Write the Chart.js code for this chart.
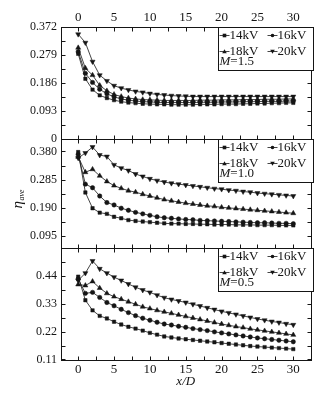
<!DOCTYPE html>
<html><head><meta charset="utf-8">
<script src="https://cdn.jsdelivr.net/npm/chart.js@4"></script>
<style>html,body{margin:0;padding:0;background:#fff;}canvas{display:block;}</style>
</head><body>
<canvas id="c" width="322" height="393"></canvas>
<script>
const xValues = [0,1,2,3,4,5,6,7,8,9,10,11,12,13,14,15,16,17,18,19,20,21,22,23,24,25,26,27,28,29,30];
const seriesNames = ['14kV','16kV','18kV','20kV'];
const panelMach = ['1.5','1.0','0.5'];

// M = 1.5
const m15_14 = [0.283,0.200,0.164,0.145,0.136,0.129,0.124,0.121,0.119,0.117,0.116,0.115,0.115,0.114,0.114,0.114,0.114,0.115,0.115,0.115,0.116,0.116,0.116,0.117,0.117,0.118,0.118,0.119,0.119,0.120,0.120];
const m15_16 = [0.290,0.218,0.188,0.165,0.150,0.140,0.133,0.129,0.126,0.124,0.123,0.122,0.121,0.121,0.121,0.121,0.121,0.122,0.122,0.122,0.123,0.123,0.123,0.124,0.124,0.124,0.125,0.125,0.125,0.126,0.126];
const m15_18 = [0.303,0.235,0.212,0.178,0.160,0.148,0.141,0.136,0.133,0.131,0.130,0.129,0.128,0.128,0.128,0.128,0.128,0.129,0.129,0.129,0.130,0.130,0.130,0.131,0.131,0.131,0.132,0.132,0.132,0.133,0.133];
const m15_20 = [0.348,0.320,0.257,0.212,0.193,0.177,0.169,0.163,0.158,0.155,0.151,0.148,0.146,0.144,0.143,0.142,0.141,0.141,0.141,0.141,0.141,0.141,0.141,0.141,0.141,0.141,0.141,0.141,0.141,0.141,0.141];
// M = 1.0
const m10_14 = [0.378,0.242,0.189,0.174,0.170,0.160,0.155,0.149,0.146,0.144,0.142,0.140,0.138,0.137,0.137,0.136,0.136,0.135,0.135,0.134,0.134,0.134,0.133,0.133,0.133,0.132,0.132,0.132,0.131,0.131,0.131];
const m10_16 = [0.370,0.270,0.258,0.230,0.208,0.200,0.189,0.182,0.175,0.170,0.165,0.160,0.157,0.155,0.153,0.151,0.150,0.148,0.147,0.146,0.145,0.144,0.143,0.142,0.141,0.140,0.140,0.139,0.138,0.138,0.137];
const m10_18 = [0.362,0.310,0.320,0.298,0.279,0.265,0.256,0.248,0.243,0.236,0.230,0.224,0.218,0.214,0.210,0.206,0.203,0.200,0.197,0.195,0.192,0.190,0.188,0.186,0.184,0.182,0.180,0.178,0.176,0.174,0.172];
const m10_20 = [0.358,0.375,0.395,0.368,0.363,0.335,0.324,0.316,0.304,0.296,0.288,0.282,0.277,0.273,0.270,0.267,0.264,0.261,0.258,0.255,0.253,0.250,0.248,0.245,0.243,0.240,0.238,0.236,0.234,0.232,0.230];
// M = 0.5
const m05_14 = [0.437,0.344,0.304,0.282,0.272,0.259,0.248,0.239,0.232,0.224,0.215,0.208,0.201,0.197,0.193,0.190,0.187,0.184,0.181,0.178,0.175,0.172,0.169,0.166,0.163,0.161,0.159,0.157,0.155,0.153,0.151];
const m05_16 = [0.428,0.371,0.375,0.355,0.335,0.322,0.308,0.295,0.283,0.273,0.265,0.257,0.250,0.246,0.241,0.237,0.232,0.228,0.224,0.219,0.215,0.211,0.207,0.203,0.199,0.195,0.192,0.189,0.186,0.183,0.180];
const m05_18 = [0.406,0.402,0.418,0.392,0.371,0.358,0.348,0.338,0.328,0.318,0.311,0.304,0.298,0.292,0.286,0.280,0.274,0.268,0.262,0.256,0.250,0.245,0.240,0.236,0.231,0.227,0.223,0.219,0.215,0.211,0.207];
const m05_20 = [0.422,0.451,0.499,0.468,0.451,0.435,0.422,0.408,0.395,0.384,0.375,0.364,0.354,0.347,0.341,0.335,0.328,0.321,0.314,0.307,0.300,0.294,0.288,0.282,0.276,0.270,0.265,0.260,0.256,0.251,0.247];

const xTicks = [0,5,10,15,20,25,30];
const xMinorTicks = [2.5,7.5,12.5,17.5,22.5,27.5];
const yTicksTop = [0,0.093,0.186,0.279,0.372];
const yLabelsTop = ['0','0.093','0.186','0.279','0.372'];
const yMinorTop = [0.0465,0.1395,0.2325,0.3255];
const yTicksMid = [0.095,0.190,0.285,0.380];
const yLabelsMid = ['0.095','0.190','0.285','0.380'];
const yMinorMid = [0.1425,0.2375,0.3325];
const yTicksBot = [0.11,0.22,0.33,0.44];
const yLabelsBot = ['0.11','0.22','0.33','0.44'];
const yMinorBot = [0.165,0.275,0.385,0.495];

const pointStyles = ['rect','circle','triangle','triangle'];
const pointRots = [0,0,0,180];
const pointRadii = [2.4,2.2,2.9,2.9];
const INK = '#151515';
const SERIF = '"Liberation Serif", "DejaVu Serif", serif';

function makeSets(arrs, axis){
  return arrs.map((a,i)=>({
    label: seriesNames[i]+' '+axis,
    data: xValues.map((x,j)=>({x:x, y:a[j]})),
    xAxisID:'x', yAxisID:axis,
    borderColor:INK, backgroundColor:INK, borderWidth:0.8,
    pointStyle:pointStyles[i], rotation:pointRots[i], pointRadius:pointRadii[i],
    pointBorderWidth:0.5, pointBorderColor:INK, pointBackgroundColor:INK,
    tension:0, fill:false
  }));
}

function yScale(min,max,ticks,labels,weight){
  return {type:'linear', position:'left', stack:'panels', stackWeight:weight, min:min, max:max,
    grid:{display:false, drawTicks:false}, border:{display:false},
    afterBuildTicks: s => { s.ticks = ticks.map(v=>({value:v})); },
    afterFit: s => { s.width = 61; },
    ticks:{autoSkip:false, padding:4, color:INK, font:{family:SERIF,size:12},
      callback:(v,i)=>labels[i]}};
}

const panels = [
  {id:'yTop', minor:yMinorTop, mach:panelMach[0]},
  {id:'yMid', minor:yMinorMid, mach:panelMach[1]},
  {id:'yBot', minor:yMinorBot, mach:panelMach[2]}
];

function drawMarker(ctx, style, x, y, r){
  ctx.beginPath();
  if(style==='rect'){ ctx.rect(x-r, y-r, 2*r, 2*r); }
  else if(style==='circle'){ ctx.arc(x,y,r,0,Math.PI*2); }
  else if(style==='up'){ ctx.moveTo(x,y-r); ctx.lineTo(x+r,y+r*0.8); ctx.lineTo(x-r,y+r*0.8); ctx.closePath(); }
  else { ctx.moveTo(x,y+r); ctx.lineTo(x+r,y-r*0.8); ctx.lineTo(x-r,y-r*0.8); ctx.closePath(); }
  ctx.fill();
}

const framePlugin = {
  id:'frames',
  afterDraw(chart){
    const ctx = chart.ctx, ca = chart.chartArea, xs = chart.scales.x;
    ctx.save();
    ctx.strokeStyle = INK; ctx.fillStyle = INK; ctx.lineWidth = 1;
    const line=(a,b,c,d)=>{ctx.beginPath();ctx.moveTo(a,b);ctx.lineTo(c,d);ctx.stroke();};
    panels.forEach(p=>{
      const ys = chart.scales[p.id];
      const top = Math.round(ys.top)+0.5, bot = Math.round(ys.bottom)+0.5;
      const L = Math.round(ca.left)+0.5, R = Math.round(ca.right)+0.5;
      ctx.strokeRect(L, top, R-L, bot-top);
      xTicks.concat(xMinorTicks).forEach(v=>{
        const px = Math.round(xs.getPixelForValue(v))+0.5;
        line(px, top, px, top+4); line(px, bot, px, bot-4);
      });
      ys.ticks.map(t=>t.value).concat(p.minor).forEach(v=>{
        const py = Math.round(ys.getPixelForValue(v))+0.5;
        if(py<top+1 || py>bot-1) return;
        line(L, py, L+4, py); line(R, py, R-4, py);
      });
      // legend box
      const bl = Math.round(ca.right - 93)+0.5, br = Math.round(ca.right + 2)+0.5;
      const bt = top, bb = top + 43;
      ctx.fillStyle='#fff'; ctx.fillRect(bl, bt, br-bl, bb-bt);
      ctx.strokeRect(bl, bt, br-bl, bb-bt);
      ctx.fillStyle = INK;
      ctx.font = '13px '+SERIF; ctx.textBaseline='middle'; ctx.textAlign='left';
      const rows = [top+8, top+24];
      const cols = [bl+1, bl+49];
      const ms = ['rect','circle','up','down'];
      for(let k=0;k<4;k++){
        const cx = cols[k%2], cy = rows[Math.floor(k/2)];
        ctx.lineWidth=0.8; line(cx, cy, cx+10, cy); ctx.lineWidth=1;
        drawMarker(ctx, ms[k], cx+5, cy, k<2?1.8:2.3);
        ctx.fillText(seriesNames[k], cx+10, cy+0.5);
      }
      const my = top+34;
      ctx.font = 'italic 13px '+SERIF;
      ctx.fillText('M', bl+1, my);
      const w = ctx.measureText('M').width;
      ctx.font = '13px '+SERIF;
      ctx.fillText('=' + p.mach, bl+1+w, my);
    });
    // y-axis title eta_ave
    ctx.save();
    ctx.translate(18, 201);
    ctx.rotate(-Math.PI/2);
    ctx.font = 'italic 15px '+SERIF; ctx.textAlign='right'; ctx.textBaseline='middle';
    ctx.fillText('\u03B7', 0, 0);
    ctx.font = 'italic 8px '+SERIF; ctx.textAlign='left';
    ctx.fillText('ave', 0.5, 4);
    ctx.restore();
    ctx.restore();
  }
};

const xCommon = {type:'linear', min:-2.4, max:32.4,
  grid:{display:false, drawTicks:false}, border:{display:false},
  afterBuildTicks: s => { s.ticks = xTicks.map(v=>({value:v})); }};

new Chart(document.getElementById('c'), {
  type:'line',
  data:{datasets:[].concat(
    makeSets([m15_14,m15_16,m15_18,m15_20],'yTop'),
    makeSets([m10_14,m10_16,m10_18,m10_20],'yMid'),
    makeSets([m05_14,m05_16,m05_18,m05_20],'yBot'))},
  options:{
    responsive:false, animation:false, devicePixelRatio:1,
    layout:{padding:{left:0,right:11.5,top:0,bottom:0}},
    plugins:{legend:{display:false}, tooltip:{enabled:false}},
    scales:{
      x: Object.assign({}, xCommon, {position:'bottom',
        afterFit: s => { s.height = 33; },
        ticks:{autoSkip:false, maxRotation:0, padding:2, color:INK, font:{family:SERIF,size:13}},
        title:{display:true, text:'x/D', color:INK, font:{family:SERIF,size:13,style:'italic'}, padding:{top:0,bottom:4}}}),
      x2: Object.assign({}, xCommon, {position:'top',
        afterFit: s => { s.height = 27; },
        ticks:{autoSkip:false, maxRotation:0, padding:2, color:INK, font:{family:SERIF,size:13}}}),
      yBot: yScale(0.108, 0.55, yTicksBot, yLabelsBot, 112),
      yMid: yScale(0.055, 0.422, yTicksMid, yLabelsMid, 109),
      yTop: yScale(0, 0.372, yTicksTop, yLabelsTop, 112)
    }
  },
  plugins:[framePlugin]
});
</script>
</body></html>
